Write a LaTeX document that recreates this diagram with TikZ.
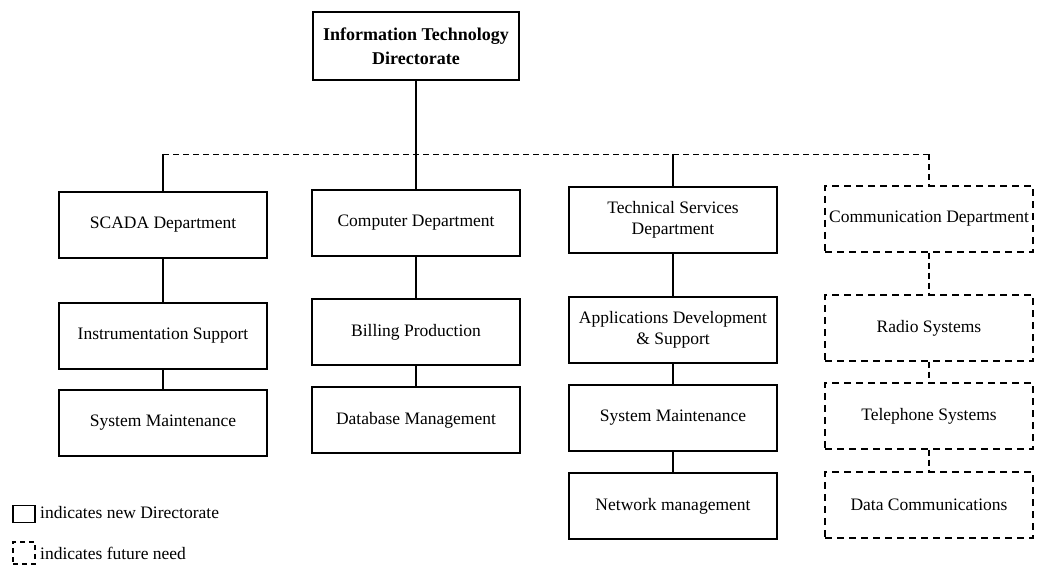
\documentclass[tikz,border=0pt]{standalone}
\usepackage{fontspec}
\setmainfont{Liberation Serif}
\begin{document}
\begin{tikzpicture}[x=1pt,y=-1pt,
  box/.style={draw,line width=1.3pt,minimum width=208pt,minimum height=66pt,align=center,
    font=\fontsize{17.5}{21.5}\selectfont,inner sep=0pt},
  topbox/.style={box,line width=1.6pt,minimum width=206pt,minimum height=68pt,
    font=\fontsize{18}{24}\selectfont\bfseries},
  future/.style={box,dash pattern=on 7pt off 5pt},
  link/.style={line width=1.5pt},
  flink/.style={line width=1.3pt,dash pattern=on 6pt off 4pt},
  bus/.style={line width=0.8pt,dash pattern=on 6pt off 4pt},
  legtext/.style={anchor=west,inner sep=0pt,font=\fontsize{17.5}{21}\selectfont}]
\useasboundingbox (0,0) rectangle (1037,567);

% top
\node[topbox] (top) at (416,46) {Information Technology\\Directorate};

% column 1
\node[box] (scada) at (163,225) {SCADA Department};
\node[box] (instr) at (163,336) {Instrumentation Support};
\node[box] (sysm1) at (163,423) {System Maintenance};

% column 2
\node[box] (comp) at (416,223) {Computer Department};
\node[box] (bill) at (416,332) {Billing Production};
\node[box] (dbm) at (416,420) {Database Management};

% column 3
\node[box] (tech) at (673,220) {Technical Services\\Department};
\node[box] (apps) at (673,330) {Applications Development\\\& Support};
\node[box] (sysm2) at (673,418) {System Maintenance};
\node[box] (net) at (673,506) {Network management};

% column 4 (future)
\node[future] (comm) at (929,219) {Communication Department};
\node[future] (radio) at (929,328) {Radio Systems};
\node[future] (tel) at (929,416) {Telephone Systems};
\node[future] (data) at (929,505) {Data Communications};

% bus
\coordinate (b1) at (163,154);
\coordinate (b2) at (416,154);
\coordinate (b3) at (673,154);
\coordinate (b4) at (929,154);
\draw[bus] (b1) -- (b4);
\draw[link] (top.south) -- (comp.north);
\draw[link] (b1) -- (scada.north);
\draw[link] (b3) -- (tech.north);
\draw[flink] (b4) -- (comm.north);

% column links
\draw[link] (scada.south) -- (instr.north);
\draw[link] (instr.south) -- (sysm1.north);
\draw[link] (comp.south) -- (bill.north);
\draw[link] (bill.south) -- (dbm.north);
\draw[link] (tech.south) -- (apps.north);
\draw[link] (apps.south) -- (sysm2.north);
\draw[link] (sysm2.south) -- (net.north);
\draw[flink] (comm.south) -- (radio.north);
\draw[flink] (radio.south) -- (tel.north);
\draw[flink] (tel.south) -- (data.north);

% legend
\node[draw,line width=1.6pt,minimum width=22pt,minimum height=17pt,inner sep=0pt] (lg1) at (24,514) {};
\node[legtext] (lt1) at (40,513) {indicates new Directorate};
\node[draw,line width=1.4pt,dash pattern=on 5pt off 4pt,minimum width=22pt,minimum height=22pt,inner sep=0pt] (lg2) at (24,553) {};
\node[legtext] (lt2) at (40,553) {indicates future need};
\end{tikzpicture}
\end{document}
